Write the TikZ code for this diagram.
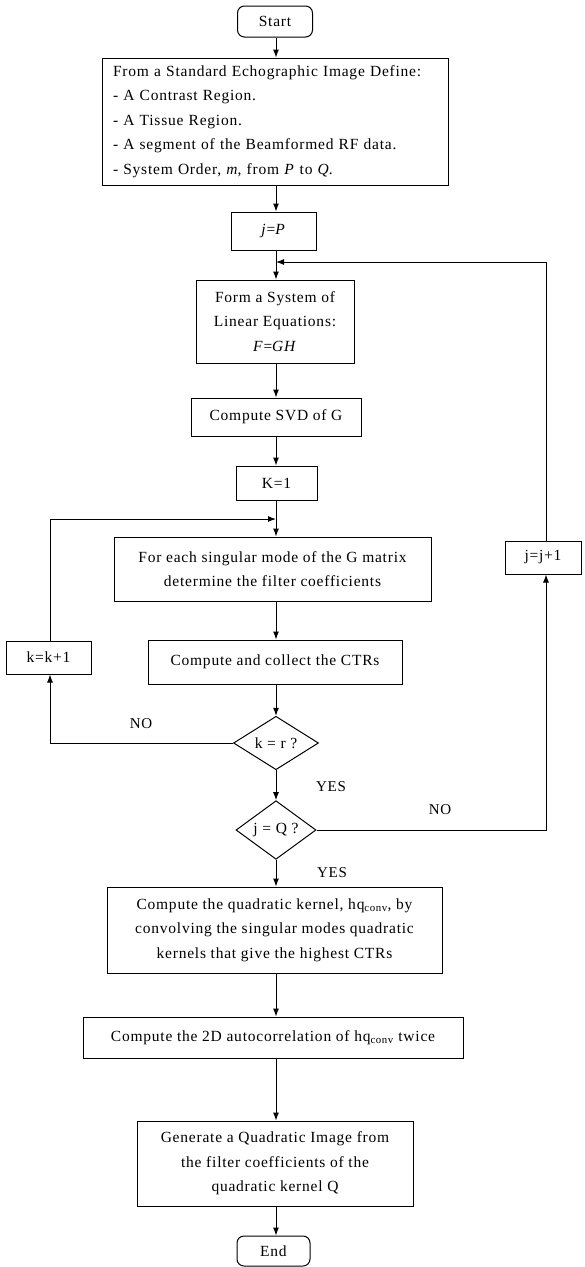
\documentclass[tikz,border=0pt]{standalone}
\usepackage{fontspec}
\setmainfont{Liberation Serif}[LetterSpace=5]
\usetikzlibrary{shapes.geometric,arrows.meta}
\begin{document}
\begin{tikzpicture}[x=1pt,y=-1pt,
  every node/.style={font=\fontsize{15.5}{24.5}\selectfont, inner sep=0pt},
  box/.style={draw, line width=1pt, align=center},
  term/.style={draw, line width=1pt, rounded corners=7pt},
  dec/.style={draw, line width=1pt, shape=diamond},
  conn/.style={line width=1pt, -{Latex[length=8pt,width=6pt]}},
  lbl/.style={font=\fontsize{15}{18}\selectfont}
]
\useasboundingbox (0,0) rectangle (585,1267);
\fill[white] (0,0) rectangle (585,1267);

\node[term, minimum width=75pt, minimum height=31pt] (start) at (275,21.5) {Start};
\node[box, minimum width=346pt, minimum height=127pt, text width=324pt, align=left] (def) at (275,121.5)
 {From a Standard Echographic Image Define:\\
  - A Contrast Region.\\
  - A Tissue Region.\\
  - A segment of the Beamformed RF data.\\
  - System Order, \textit{m}, from \textit{P} to \textit{Q}.};
\node[box, minimum width=85pt, minimum height=38pt] (jp) at (273.5,231) {\textit{j}=\textit{P}};
\node[box, minimum width=158pt, minimum height=83pt] (form) at (275,321.5)
 {Form a System of\\Linear Equations:\\\textit{F}=\textit{GH}};
\node[box, minimum width=170pt, minimum height=38pt] (svd) at (276,417) {Compute SVD of G};
\node[box, minimum width=81pt, minimum height=34pt] (k1) at (276.5,483) {K=1};
\node[box, minimum width=317pt, minimum height=64pt] (each) at (272.5,569)
 {For each singular mode of the G matrix\\determine the filter coefficients};
\node[box, minimum width=254pt, minimum height=44pt] (ctr) at (275,662) {Compute and collect the CTRs};
\node[dec, minimum width=85pt, minimum height=48pt] (kr) at (276,743) {k = r ?};
\node[box, minimum width=85pt, minimum height=33pt] (kk) at (48.5,657.5) {k=k+1};
\node[box, minimum width=76pt, minimum height=33pt] (jj) at (543,557.5) {j=j+1};
\node[dec, minimum width=80pt, minimum height=46pt] (jq) at (276,830) {j = Q ?};
\node[box, minimum width=335pt, minimum height=86pt] (quad) at (274.5,930)
 {Compute the quadratic kernel, hq\textsubscript{conv}, by\\convolving the singular modes quadratic\\kernels that give the highest CTRs};
\node[box, minimum width=380pt, minimum height=41pt] (auto) at (273,1037.5)
 {Compute the 2D autocorrelation of hq\textsubscript{conv} twice};
\node[box, minimum width=276pt, minimum height=85pt] (gen) at (275,1163.5)
 {Generate a Quadratic Image from\\the filter coefficients of the\\quadratic kernel Q};
\node[term, minimum width=73pt, minimum height=30pt] (end) at (273.5,1251) {End};

\coordinate (jloop) at (276,262);
\coordinate (kloop) at (276,519);
\coordinate (jcol) at (546,262);
\coordinate (kcol) at (50,519);

\draw[conn] (start.south -| 276,0) -- (def.north -| 276,0);
\draw[conn] (def.south -| 276,0) -- (jp.north -| 276,0);
\draw[conn] (jp.south -| 276,0) -- (form.north -| 276,0);
\draw[conn] (form.south -| 276,0) -- (svd.north -| 276,0);
\draw[conn] (svd.south -| 276,0) -- (k1.north -| 276,0);
\draw[conn] (k1.south -| 276,0) -- (each.north -| 276,0);
\draw[conn] (each.south -| 276,0) -- (ctr.north -| 276,0);
\draw[conn] (ctr.south -| 276,0) -- (kr.north);
\draw[conn] (kr.south) -- (jq.north);
\draw[conn] (jq.south) -- (quad.north -| jq.south);
\draw[conn] (quad.south -| 276,0) -- (auto.north -| 276,0);
\draw[conn] (auto.south -| 276,0) -- (gen.north -| 276,0);
\draw[conn] (gen.south -| 276,0) -- (end.north -| 276,0);

% k loop
\draw[conn] (kr.west) -- (kr.west -| kcol) -- (kk.south -| kcol);
\draw[conn] (kk.north -| kcol) -- (kcol) -- (kloop);
% j loop
\draw[conn] (jq.east) -- (jq.east -| jcol) -- (jj.south -| jcol);
\draw[conn] (jj.north -| jcol) -- (jcol) -- (jloop);

\node[lbl] (no1) at (141,724) {NO};
\node[lbl] (yes1) at (331,787) {YES};
\node[lbl] (no2) at (440,810) {NO};
\node[lbl] (yes2) at (332,873) {YES};
\end{tikzpicture}
\end{document}
